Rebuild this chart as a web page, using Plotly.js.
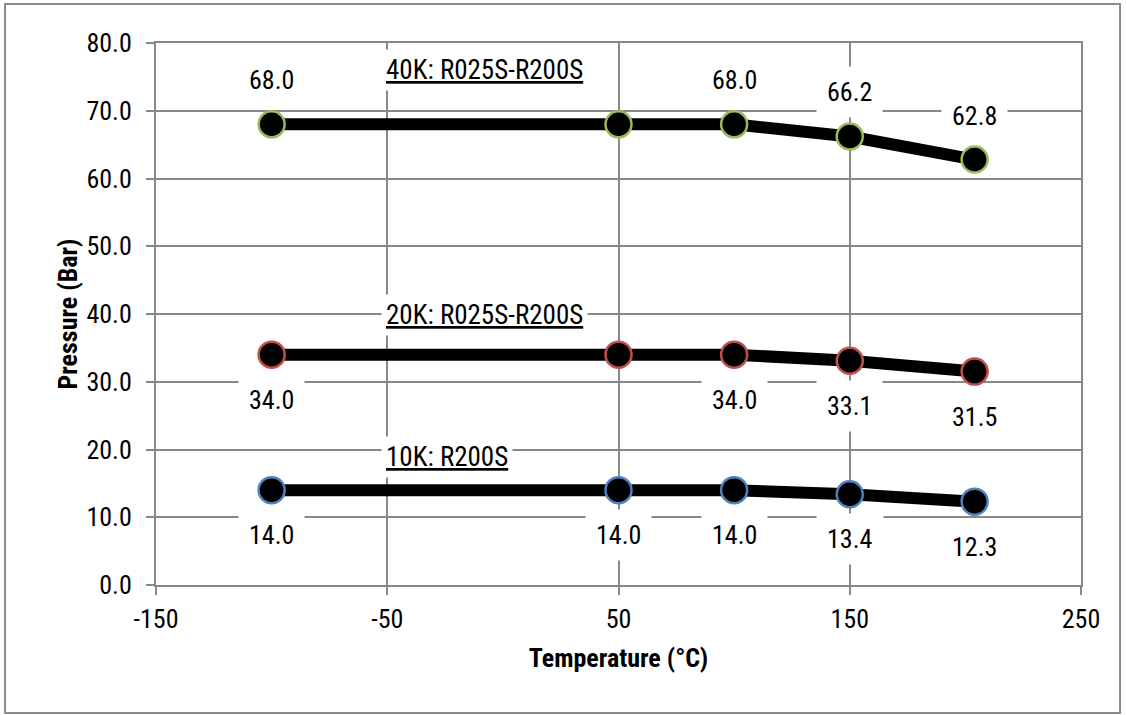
<!DOCTYPE html>
<html>
<head>
<meta charset="utf-8">
<script src="https://cdn.plot.ly/plotly-3.0.1.min.js"></script>
<style>
  html, body { margin: 0; padding: 0; background: #fff; }
  #chart { width: 1127px; height: 715px; }
</style>
</head>
<body>
<div id="chart"></div>
<script>
// ---- data ----
const temperatures = [-100, 50, 100, 150, 204];
const pressure40K = [68.0, 68.0, 68.0, 66.2, 62.8];
const pressure20K = [34.0, 34.0, 34.0, 33.1, 31.5];
const pressure10K = [14.0, 14.0, 14.0, 13.4, 12.3];
const labelShown40K = [true, false, true, true, true];
const labelShown20K = [true, false, true, true, true];
const labelShown10K = [true, true, true, true, true];
const seriesNames = ['40K: R025S-R200S', '20K: R025S-R200S', '10K: R200S'];
const xTickVals = [-150, -50, 50, 150, 250];
const xTickText = ['-150', '-50', '50', '150', '250'];
const xTitle = 'Temperature (°C)';
const yTitle = 'Pressure (Bar)';

const FONT = '"Liberation Sans Narrow", "Arial Narrow", "Roboto Condensed", sans-serif';
const GRID = '#888888';

const series = [
  { name: seriesNames[0], y: pressure40K, shown: labelShown40K, edge: '#9bbb59', labelShift: 44, nameY: 76.0 },
  { name: seriesNames[1], y: pressure20K, shown: labelShown20K, edge: '#c0504d', labelShift: -45, nameY: 39.9 },
  { name: seriesNames[2], y: pressure10K, shown: labelShown10K, edge: '#4f81bd', labelShift: -45, nameY: 18.9 }
];

const traces = series.map(s => ({
  type: 'scatter',
  mode: 'lines+markers',
  name: s.name,
  x: temperatures,
  y: s.y,
  line: { color: '#000000', width: 12 },
  marker: { size: 26, color: '#000000', line: { color: s.edge, width: 2.5 } },
  hoverinfo: 'x+y'
}));

const annotations = [];
series.forEach(s => {
  s.y.forEach((v, i) => {
    if (!s.shown[i]) return;
    annotations.push({
      x: temperatures[i], y: v, xref: 'x', yref: 'y',
      text: v.toFixed(1), showarrow: false,
      yshift: s.labelShift,
      bgcolor: '#ffffff', borderpad: 10,
      font: { family: FONT, size: 26, color: '#000000' }
    });
  });
  annotations.push({
    x: -50, y: s.nameY, xref: 'x', yref: 'y',
    xanchor: 'left', yanchor: 'middle',
    text: '<u>' + s.name + '</u>', showarrow: false,
    bgcolor: '#ffffff', borderpad: 4, xshift: -6,
    font: { family: FONT, size: 27, color: '#000000' }
  });
});

const layout = {
  width: 1127, height: 715,
  margin: { l: 156, r: 46, t: 43, b: 130 },
  paper_bgcolor: '#ffffff', plot_bgcolor: '#ffffff',
  showlegend: false,
  font: { family: FONT, size: 26, color: '#000000' },
  xaxis: {
    range: [-150, 250], tickmode: 'array', tickvals: xTickVals, ticktext: xTickText,
    showgrid: true, gridcolor: GRID, gridwidth: 2,
    zeroline: false, showline: true, linecolor: GRID, linewidth: 2, mirror: true,
    ticks: 'outside', ticklen: 8, tickwidth: 2, tickcolor: GRID,
    ticklabelstandoff: 2,
    tickfont: { family: FONT, size: 26 },
    title: { text: '<b>' + xTitle + '</b>', font: { family: FONT, size: 26 }, standoff: 16 }
  },
  yaxis: {
    range: [0, 80], tick0: 0, dtick: 10, tickformat: '.1f',
    showgrid: true, gridcolor: GRID, gridwidth: 2,
    zeroline: false, showline: true, linecolor: GRID, linewidth: 2, mirror: true,
    ticks: 'outside', ticklen: 8, tickwidth: 2, tickcolor: GRID,
    ticklabelstandoff: 9,
    tickfont: { family: FONT, size: 26 },
    title: { text: '<b>' + yTitle + '</b>', font: { family: FONT, size: 26 }, standoff: 1 }
  },
  annotations: annotations,
  shapes: [{
    type: 'rect', xref: 'paper', yref: 'paper',
    x0: -0.1632, x1: 1.0422, y0: -0.2362, y1: 1.0720,
    line: { color: '#8c8c8c', width: 2 }, fillcolor: 'rgba(0,0,0,0)', layer: 'below'
  }]
};

Plotly.newPlot('chart', traces, layout, { displayModeBar: false, staticPlot: true });
</script>
</body>
</html>
